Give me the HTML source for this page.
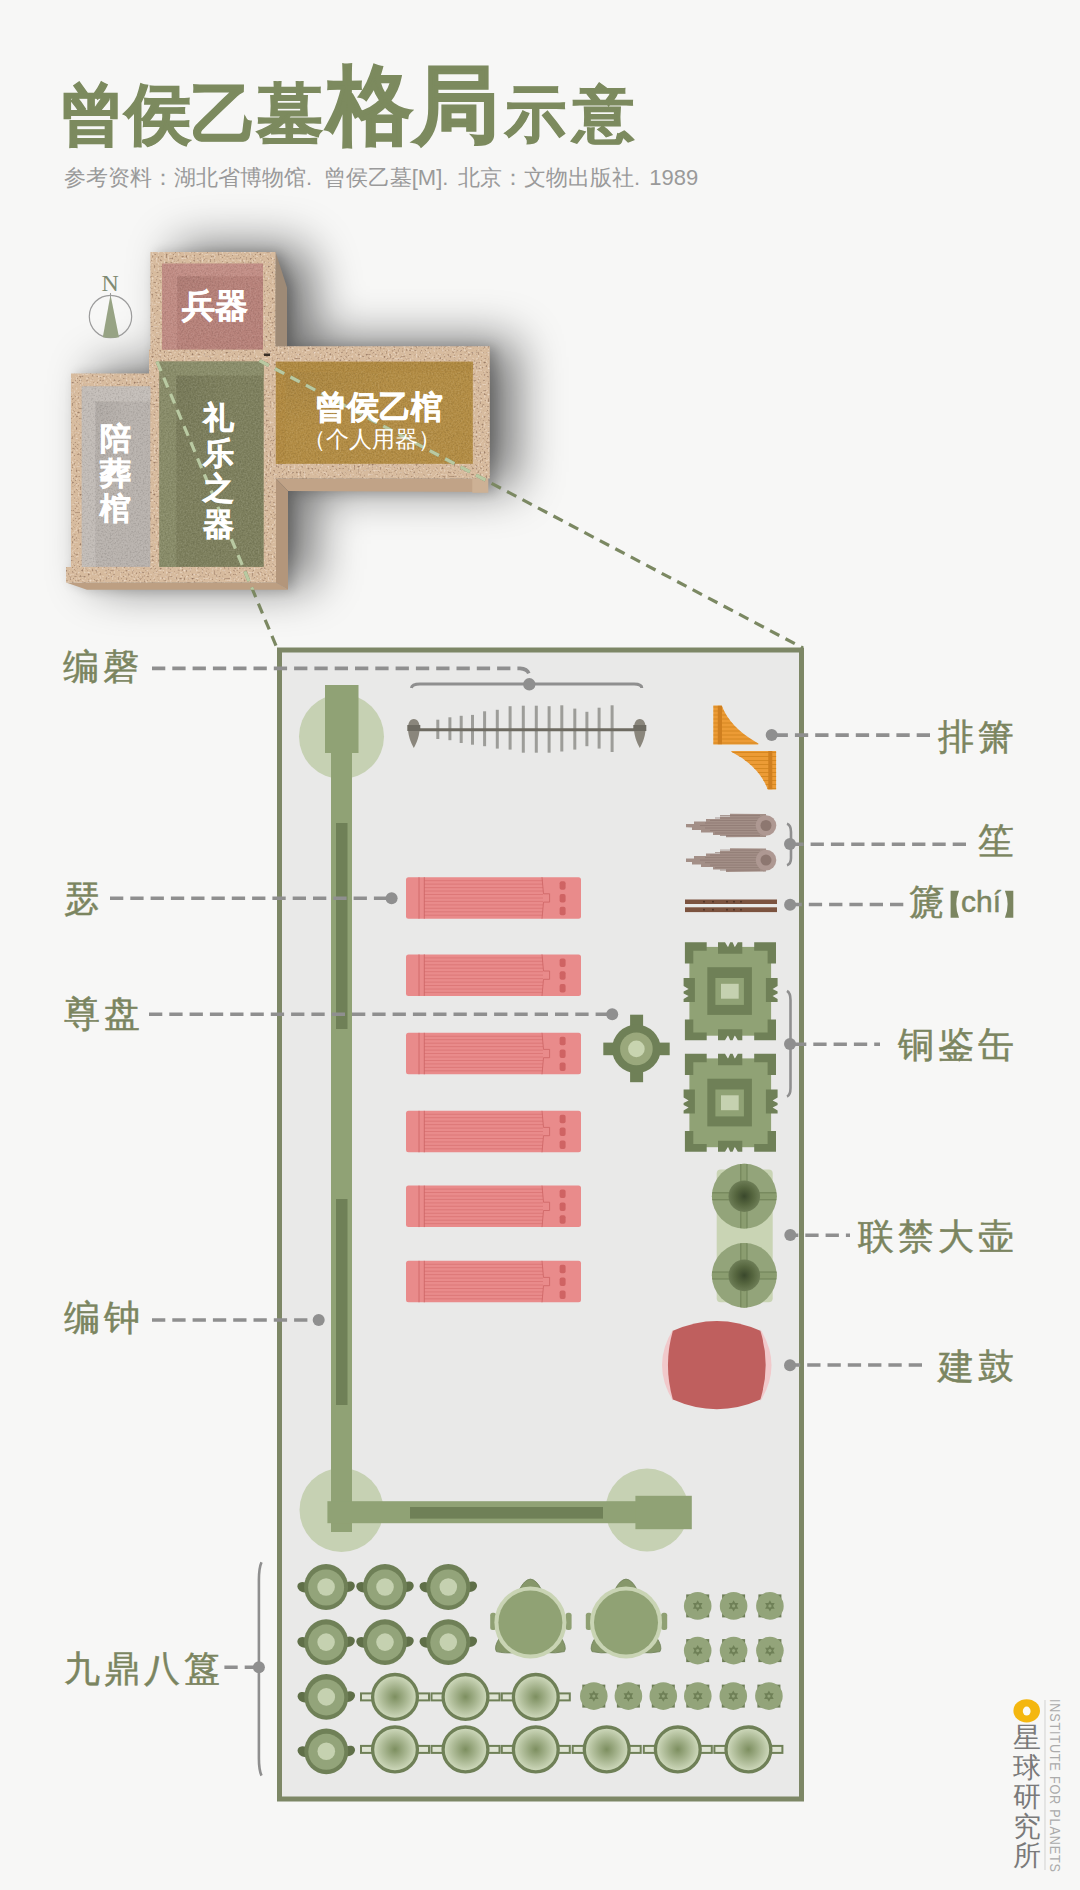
<!DOCTYPE html>
<html><head><meta charset="utf-8">
<style>
html,body{margin:0;padding:0;}
body{width:1080px;height:1890px;overflow:hidden;background:#f7f7f6;position:relative;font-family:"Liberation Sans",sans-serif;}
.t{position:absolute;white-space:nowrap;line-height:1;}
.lab{position:absolute;white-space:nowrap;line-height:1;font-size:36px;font-weight:400;color:#7b8560;letter-spacing:4px;-webkit-text-stroke:0.5px #7b8560;}
.tv{line-height:34px;}
.rl{margin-right:-4px;}
svg{position:absolute;left:0;top:0;}
</style></head><body>
<svg width="1080" height="1890" viewBox="0 0 1080 1890">
<defs>
<filter id="shBlur" x="-30%" y="-30%" width="160%" height="160%"><feGaussianBlur stdDeviation="24"/></filter>
<filter id="shBlur2" x="-30%" y="-30%" width="160%" height="160%"><feGaussianBlur stdDeviation="6"/></filter>
<filter id="speck" x="0" y="0" width="100%" height="100%" color-interpolation-filters="sRGB">
 <feTurbulence type="fractalNoise" baseFrequency="0.5" numOctaves="3" seed="5" result="t"/>
 <feColorMatrix in="t" type="matrix" values="0 0 0 0 0.58  0 0 0 0 0.46  0 0 0 0 0.38  -3.6 0 0 0 1.55" result="dk"/>
 <feColorMatrix in="t" type="matrix" values="0 0 0 0 0.93  0 0 0 0 0.86  0 0 0 0 0.79  0 3 0 0 -1.6" result="lt"/>
 <feMerge result="m"><feMergeNode in="dk"/><feMergeNode in="lt"/></feMerge>
 <feGaussianBlur in="m" stdDeviation="0.45" result="mb"/>
 <feComposite in="mb" in2="SourceAlpha" operator="in"/>
</filter>
<filter id="roomNoise" x="0" y="0" width="100%" height="100%" color-interpolation-filters="sRGB">
 <feTurbulence type="fractalNoise" baseFrequency="0.6" numOctaves="2" seed="9" result="t"/>
 <feColorMatrix in="t" type="matrix" values="0 0 0 0 1  0 0 0 0 1  0 0 0 0 1  3 0 0 0 -1.5" result="lt"/>
 <feColorMatrix in="t" type="matrix" values="0 0 0 0 0  0 0 0 0 0  0 0 0 0 0  -3 0 0 0 1.5" result="dk"/>
 <feMerge result="m"><feMergeNode in="dk"/><feMergeNode in="lt"/></feMerge>
 <feComposite in="m" in2="SourceAlpha" operator="in"/>
</filter>
<radialGradient id="roomShade" cx="0" cy="0" r="1.2"><stop offset="0" stop-color="#000" stop-opacity="0.05"/><stop offset="0.5" stop-color="#000" stop-opacity="0.0"/></radialGradient>
<linearGradient id="roomShadeV" x1="0" y1="0" x2="0" y2="1"><stop offset="0" stop-color="#000" stop-opacity="0.06"/><stop offset="0.12" stop-color="#000" stop-opacity="0"/></linearGradient>

<radialGradient id="huG"><stop offset="0" stop-color="#3a482c"/><stop offset="0.55" stop-color="#56663f"/><stop offset="1" stop-color="#6d7d56"/></radialGradient>
<radialGradient id="guiG"><stop offset="0" stop-color="#7d8f60"/><stop offset="1" stop-color="#d2dcc0"/></radialGradient>
</defs>
<path d="M150.4 252 L275.6 252 L287 287 L287 346.3 L489.8 346.3 L489.8 492.5 L288 492 L288 589.8 L87 589.8 L66 582.5 L66 567 L71 567 L71 373.6 L149 373.6 L149 349.6 L150.4 349.6 Z" transform="translate(26 -5)" fill="#000" opacity="0.55" filter="url(#shBlur)"/>
<path d="M150.4 252 L275.6 252 L287 287 L287 346.3 L489.8 346.3 L489.8 492.5 L288 492 L288 589.8 L87 589.8 L66 582.5 L66 567 L71 567 L71 373.6 L149 373.6 L149 349.6 L150.4 349.6 Z" transform="translate(5 0)" fill="#000" opacity="0.18" filter="url(#shBlur2)"/>
<path d="M275.6 252.2 L287 287.4 L287 346.3 L275.6 346.3Z" fill="#9e8a76"/>
<path d="M276 478.5 L488 478.5 L488 492 L288 491 Z" fill="#c1a387"/>
<rect x="472.3" y="478.5" width="16" height="14.3" fill="#cdb195"/>
<path d="M276 478.5 L288 491 L288 589.8 L276 582.5Z" fill="#b3967b"/>
<path d="M66 582.5 L276 582.5 L288 589.8 L87 589.8Z" fill="#bd9f82"/>
<path d="M150.4 252 L275.6 252 L275.6 346.3 L489.8 346.3 L489.8 478.5 L276 478.5 L276 582.5 L66 582.5 L66 567 L71 567 L71 373.6 L149 373.6 L149 349.6 L150.4 349.6 Z" fill="#d7bb9e"/>
<path d="M150.4 252 L275.6 252 L275.6 346.3 L489.8 346.3 L489.8 478.5 L276 478.5 L276 582.5 L66 582.5 L66 567 L71 567 L71 373.6 L149 373.6 L149 349.6 L150.4 349.6 Z" fill="#000" filter="url(#speck)"/>
<rect x="162.2" y="263.7" width="100.8" height="85.9" fill="#b7827a"/>
<path d="M162.2 263.7 L263.0 263.7 L263.0 276.2 L177.2 276.2 Z" fill="#c28e86"/>
<path d="M162.2 263.7 L177.2 276.2 L177.2 349.6 L162.2 349.6 Z" fill="#c28e86" opacity="0.85"/>
<rect x="162.2" y="263.7" width="100.8" height="85.9" fill="#000" filter="url(#roomNoise)" opacity="0.10"/>
<rect x="177.2" y="276.2" width="85.8" height="73.4" fill="url(#roomShade)"/>
<rect x="81.8" y="386.5" width="68.5" height="180.4" fill="#b8b2ad"/>
<path d="M81.8 386.5 L150.3 386.5 L150.3 401.5 L95.39999999999999 401.5 Z" fill="#c3bdb8"/>
<path d="M81.8 386.5 L95.39999999999999 401.5 L95.39999999999999 566.9 L81.8 566.9 Z" fill="#c3bdb8" opacity="0.85"/>
<rect x="81.8" y="386.5" width="68.5" height="180.4" fill="#000" filter="url(#roomNoise)" opacity="0.10"/>
<rect x="95.39999999999999" y="401.5" width="54.9" height="165.4" fill="url(#roomShade)"/>
<rect x="159.4" y="361.6" width="104.3" height="205.3" fill="#7e805e"/>
<path d="M159.4 361.6 L263.7 361.6 L263.7 375.6 L176.4 375.6 Z" fill="#8b8e6b"/>
<path d="M159.4 361.6 L176.4 375.6 L176.4 566.9000000000001 L159.4 566.9000000000001 Z" fill="#8b8e6b" opacity="0.85"/>
<rect x="159.4" y="361.6" width="104.3" height="205.3" fill="#000" filter="url(#roomNoise)" opacity="0.10"/>
<rect x="176.4" y="375.6" width="87.3" height="191.3" fill="url(#roomShade)"/>
<rect x="275.9" y="361.8" width="196.9" height="102" fill="#b38d45"/>
<path d="M275.9 361.8 L472.79999999999995 361.8 L472.79999999999995 371.8 L285.9 371.8 Z" fill="#b08a42"/>
<path d="M275.9 361.8 L285.9 371.8 L285.9 463.8 L275.9 463.8 Z" fill="#b08a42" opacity="0.85"/>
<rect x="275.9" y="361.8" width="196.9" height="102" fill="#000" filter="url(#roomNoise)" opacity="0.10"/>
<rect x="285.9" y="371.8" width="186.9" height="92" fill="url(#roomShade)"/>
<rect x="264" y="353.5" width="6" height="2.5" fill="#3a3028"/>
<clipPath id="footClip"><path d="M150.4 252 L275.6 252 L287 287 L287 346.3 L489.8 346.3 L489.8 492.5 L288 492 L288 589.8 L87 589.8 L66 582.5 L66 567 L71 567 L71 373.6 L149 373.6 L149 349.6 L150.4 349.6 Z"/></clipPath>
<line x1="259.5" y1="360.6" x2="803" y2="648" stroke="#7b8862" stroke-width="3.2" stroke-dasharray="10.5 7"/>
<line x1="157" y1="361.5" x2="277" y2="648" stroke="#7b8862" stroke-width="3.2" stroke-dasharray="10.5 7"/>
<g clip-path="url(#footClip)"><line x1="259.5" y1="360.6" x2="803" y2="648" stroke="#b9c9a2" stroke-width="3.2" stroke-dasharray="10.5 7"/><line x1="157" y1="361.5" x2="277" y2="648" stroke="#b9c9a2" stroke-width="3.2" stroke-dasharray="10.5 7"/></g>
<circle cx="110.5" cy="316.5" r="21.2" fill="none" stroke="#9c9c9c" stroke-width="1.2"/>
<path d="M110.5 294.8 L119 337.2 Q110.8 338.5 102.8 337.2 Z" fill="#97a384"/>
<line x1="110.5" y1="293" x2="110.5" y2="297" stroke="#9c9c9c" stroke-width="1"/>
<ellipse cx="1026.7" cy="1710.8" rx="13.3" ry="11.6" fill="#f4b70f"/>
<ellipse cx="1026.7" cy="1711.1" rx="3.9" ry="4.5" fill="#fbfbf7"/>
<line x1="1045" y1="1700" x2="1045" y2="1870" stroke="#d8d8d8" stroke-width="1.2"/>
<rect x="279.5" y="650" width="522" height="1149" fill="#e9e9e8" stroke="#7d8766" stroke-width="5"/>
<circle cx="341.5" cy="736.5" r="42.5" fill="#c6d1b3"/>
<circle cx="341.5" cy="1510" r="42" fill="#c6d1b3"/>
<circle cx="647" cy="1510" r="41.5" fill="#c6d1b3"/>
<rect x="331" y="740" width="21" height="792" fill="#90a275"/>
<rect x="325" y="685" width="33.5" height="68" fill="#90a275"/>
<rect x="336" y="823" width="11.5" height="206" fill="#6f8057"/>
<rect x="336" y="1199" width="11.5" height="206" fill="#6f8057"/>
<rect x="327.4" y="1501.2" width="310" height="22" fill="#90a275"/>
<rect x="410" y="1507" width="193" height="11.6" fill="#6f8057"/>
<rect x="635.4" y="1495.8" width="56.4" height="33.4" fill="#90a275"/>
<rect x="436.3" y="719.7" width="3" height="19.3" fill="#9d9d99"/>
<rect x="448.4" y="717.3" width="3" height="22.9" fill="#9d9d99"/>
<rect x="459.7" y="715.8" width="3" height="27.2" fill="#9d9d99"/>
<rect x="471.0" y="714.9" width="3" height="29.8" fill="#9d9d99"/>
<rect x="483.1" y="711.3" width="3" height="34.9" fill="#9d9d99"/>
<rect x="495.8" y="709.8" width="3" height="38.8" fill="#9d9d99"/>
<rect x="508.6" y="706.2" width="3" height="43.4" fill="#9d9d99"/>
<rect x="521.8" y="705.7" width="3" height="47.0" fill="#9d9d99"/>
<rect x="534.8" y="705.7" width="3" height="47.0" fill="#9d9d99"/>
<rect x="547.6" y="706.2" width="3" height="46.5" fill="#9d9d99"/>
<rect x="560.3" y="705.3" width="3" height="46.2" fill="#9d9d99"/>
<rect x="573.3" y="708.6" width="3" height="41.0" fill="#9d9d99"/>
<rect x="585.4" y="711.8" width="3" height="34.4" fill="#9d9d99"/>
<rect x="597.6" y="707.7" width="3" height="40.9" fill="#9d9d99"/>
<rect x="610.6" y="705.3" width="3" height="46.7" fill="#9d9d99"/>
<line x1="412" y1="729.8" x2="640" y2="729.8" stroke="#6e6b62" stroke-width="3"/>
<path d="M413.8 719 C421.8 719 421.3 735 413.8 748 C406.3 735 405.8 719 413.8 719Z" fill="#8a867c"/>
<rect x="407.3" y="725" width="13" height="6" fill="#6e6b62"/>
<path d="M639.8 719 C647.8 719 647.3 735 639.8 748 C632.3 735 631.8 719 639.8 719Z" fill="#8a867c"/>
<rect x="633.3" y="725" width="13" height="6" fill="#6e6b62"/>
<path d="M411.4 688 Q412 684 420 684 L634 684 Q641.8 684 641.8 688" fill="none" stroke="#8f8f8f" stroke-width="3"/>
<path d="M152 668.4 L520 668.4 Q529 669 529.3 676" fill="none" stroke="#8f8f8f" stroke-width="3.6" stroke-dasharray="13.3 7"/>
<circle cx="529.3" cy="684.3" r="6.2" fill="#8f8f8f"/>
<clipPath id="pp1"><path d="M713.3 705.6 L721.7 705.6 Q730 728 758.3 743.5 L758.3 744.4 L713.3 744.4 Z"/></clipPath><clipPath id="pp2"><path d="M731.3 750.9 L776.1 750.9 L776.1 789.4 L767.8 789.4 Q759 766 731.3 751.8 Z"/></clipPath>
<path d="M713.3 705.6 L721.7 705.6 Q730 728 758.3 743.5 L758.3 744.4 L713.3 744.4 Z" fill="#ec9b35"/>
<g clip-path="url(#pp1)">
<line x1="713.3" y1="707.0" x2="760" y2="707.0" stroke="#d4861f" stroke-width="0.9"/>
<line x1="713.3" y1="711.0" x2="760" y2="711.0" stroke="#d4861f" stroke-width="0.9"/>
<line x1="713.3" y1="715.0" x2="760" y2="715.0" stroke="#d4861f" stroke-width="0.9"/>
<line x1="713.3" y1="719.0" x2="760" y2="719.0" stroke="#d4861f" stroke-width="0.9"/>
<line x1="713.3" y1="723.0" x2="760" y2="723.0" stroke="#d4861f" stroke-width="0.9"/>
<line x1="713.3" y1="727.0" x2="760" y2="727.0" stroke="#d4861f" stroke-width="0.9"/>
<line x1="713.3" y1="731.0" x2="760" y2="731.0" stroke="#d4861f" stroke-width="0.9"/>
<line x1="713.3" y1="735.0" x2="760" y2="735.0" stroke="#d4861f" stroke-width="0.9"/>
<line x1="713.3" y1="739.0" x2="760" y2="739.0" stroke="#d4861f" stroke-width="0.9"/>
<line x1="713.3" y1="743.0" x2="760" y2="743.0" stroke="#d4861f" stroke-width="0.9"/>
<rect x="717.8" y="705.6" width="4.2" height="38.8" fill="#cf7f1f"/>
</g>
<path d="M731.3 750.9 L776.1 750.9 L776.1 789.4 L767.8 789.4 Q759 766 731.3 751.8 Z" fill="#ec9b35"/>
<g clip-path="url(#pp2)">
<line x1="730" y1="752.5" x2="777" y2="752.5" stroke="#d4861f" stroke-width="0.9"/>
<line x1="730" y1="756.5" x2="777" y2="756.5" stroke="#d4861f" stroke-width="0.9"/>
<line x1="730" y1="760.5" x2="777" y2="760.5" stroke="#d4861f" stroke-width="0.9"/>
<line x1="730" y1="764.5" x2="777" y2="764.5" stroke="#d4861f" stroke-width="0.9"/>
<line x1="730" y1="768.5" x2="777" y2="768.5" stroke="#d4861f" stroke-width="0.9"/>
<line x1="730" y1="772.5" x2="777" y2="772.5" stroke="#d4861f" stroke-width="0.9"/>
<line x1="730" y1="776.5" x2="777" y2="776.5" stroke="#d4861f" stroke-width="0.9"/>
<line x1="730" y1="780.5" x2="777" y2="780.5" stroke="#d4861f" stroke-width="0.9"/>
<line x1="730" y1="784.5" x2="777" y2="784.5" stroke="#d4861f" stroke-width="0.9"/>
<line x1="730" y1="788.5" x2="777" y2="788.5" stroke="#d4861f" stroke-width="0.9"/>
<rect x="768.3" y="750.9" width="4" height="38.5" fill="#cf7f1f"/>
</g>
<path d="M766 814.0 L730 813.7 L730 816.5 L720 816.5 L720 819.0 L706 819.0 L706 821.5 L694 821.5 L694 824.0 L686 824.0 L686 827.3 L692 827.5 L692 830.0 L701 830.0 L701 832.5 L713 832.5 L713 835.0 L726 835.0 L726 837.3 L766 837.0 Z" fill="#a38f87"/>
<line x1="720" y1="815.5" x2="760" y2="815.5" stroke="#8c7770" stroke-width="0.7"/>
<line x1="715" y1="818.0" x2="760" y2="818.0" stroke="#8c7770" stroke-width="0.7"/>
<line x1="710" y1="820.5" x2="760" y2="820.5" stroke="#8c7770" stroke-width="0.7"/>
<line x1="705" y1="823.0" x2="760" y2="823.0" stroke="#8c7770" stroke-width="0.7"/>
<line x1="700" y1="825.5" x2="760" y2="825.5" stroke="#8c7770" stroke-width="0.7"/>
<line x1="705" y1="828.0" x2="760" y2="828.0" stroke="#8c7770" stroke-width="0.7"/>
<line x1="710" y1="830.5" x2="760" y2="830.5" stroke="#8c7770" stroke-width="0.7"/>
<line x1="715" y1="833.0" x2="760" y2="833.0" stroke="#8c7770" stroke-width="0.7"/>
<line x1="720" y1="835.5" x2="760" y2="835.5" stroke="#8c7770" stroke-width="0.7"/>
<circle cx="766" cy="825.5" r="10.3" fill="#ae9892"/>
<circle cx="766" cy="825.5" r="5.5" fill="#8d7770"/>
<path d="M766 848.6 L730 848.3000000000001 L730 851.1 L720 851.1 L720 853.6 L706 853.6 L706 856.1 L694 856.1 L694 858.6 L686 858.6 L686 861.9 L692 862.1 L692 864.6 L701 864.6 L701 867.1 L713 867.1 L713 869.6 L726 869.6 L726 871.9 L766 871.6 Z" fill="#a38f87"/>
<line x1="720" y1="850.1" x2="760" y2="850.1" stroke="#8c7770" stroke-width="0.7"/>
<line x1="715" y1="852.6" x2="760" y2="852.6" stroke="#8c7770" stroke-width="0.7"/>
<line x1="710" y1="855.1" x2="760" y2="855.1" stroke="#8c7770" stroke-width="0.7"/>
<line x1="705" y1="857.6" x2="760" y2="857.6" stroke="#8c7770" stroke-width="0.7"/>
<line x1="700" y1="860.1" x2="760" y2="860.1" stroke="#8c7770" stroke-width="0.7"/>
<line x1="705" y1="862.6" x2="760" y2="862.6" stroke="#8c7770" stroke-width="0.7"/>
<line x1="710" y1="865.1" x2="760" y2="865.1" stroke="#8c7770" stroke-width="0.7"/>
<line x1="715" y1="867.6" x2="760" y2="867.6" stroke="#8c7770" stroke-width="0.7"/>
<line x1="720" y1="870.1" x2="760" y2="870.1" stroke="#8c7770" stroke-width="0.7"/>
<circle cx="766" cy="860.1" r="10.3" fill="#ae9892"/>
<circle cx="766" cy="860.1" r="5.5" fill="#8d7770"/>
<path d="M787 823.7 Q791 825 791 832 L791 858 Q791 864 787 865.2" fill="none" stroke="#8f8f8f" stroke-width="2.6"/>
<rect x="685" y="899.5" width="92" height="4.5" fill="#7c533f"/>
<rect x="685" y="907.3" width="92" height="4.8" fill="#7c533f"/>
<circle cx="704" cy="901.7" r="0.9" fill="#4a2f22"/><circle cx="704" cy="909.7" r="0.9" fill="#4a2f22"/>
<circle cx="713" cy="901.7" r="0.9" fill="#4a2f22"/><circle cx="713" cy="909.7" r="0.9" fill="#4a2f22"/>
<circle cx="727" cy="901.7" r="0.9" fill="#4a2f22"/><circle cx="727" cy="909.7" r="0.9" fill="#4a2f22"/>
<circle cx="734" cy="901.7" r="0.9" fill="#4a2f22"/><circle cx="734" cy="909.7" r="0.9" fill="#4a2f22"/>
<circle cx="741" cy="901.7" r="0.9" fill="#4a2f22"/><circle cx="741" cy="909.7" r="0.9" fill="#4a2f22"/>
<rect x="406" y="877.2" width="175" height="41.5" rx="2.5" fill="#e98b8b"/>
<line x1="424" y1="880.7" x2="543" y2="880.7" stroke="#d97474" stroke-width="0.8"/>
<line x1="424" y1="884.1" x2="543" y2="884.1" stroke="#d97474" stroke-width="0.8"/>
<line x1="424" y1="887.6" x2="543" y2="887.6" stroke="#d97474" stroke-width="0.8"/>
<line x1="424" y1="891.0" x2="543" y2="891.0" stroke="#d97474" stroke-width="0.8"/>
<line x1="424" y1="894.5" x2="543" y2="894.5" stroke="#d97474" stroke-width="0.8"/>
<line x1="424" y1="898.0" x2="543" y2="898.0" stroke="#d97474" stroke-width="0.8"/>
<line x1="424" y1="901.4" x2="543" y2="901.4" stroke="#d97474" stroke-width="0.8"/>
<line x1="424" y1="904.9" x2="543" y2="904.9" stroke="#d97474" stroke-width="0.8"/>
<line x1="424" y1="908.3" x2="543" y2="908.3" stroke="#d97474" stroke-width="0.8"/>
<line x1="424" y1="911.8" x2="543" y2="911.8" stroke="#d97474" stroke-width="0.8"/>
<line x1="424" y1="915.2" x2="543" y2="915.2" stroke="#d97474" stroke-width="0.8"/>
<line x1="419" y1="877.2" x2="419" y2="918.7" stroke="#cf6868" stroke-width="0.9"/>
<line x1="424.3" y1="877.2" x2="424.3" y2="918.7" stroke="#cf6868" stroke-width="0.9"/>
<path d="M542 877.2 L543.5 893.8000000000001 L549.6 893.8000000000001 L549.6 902.1 L543.5 902.1 L542 918.7" fill="none" stroke="#cf6868" stroke-width="0.9"/>
<rect x="559.6" y="881.2" width="6" height="8.5" rx="2" fill="#cf6363"/>
<rect x="559.6" y="894.0" width="6" height="8.5" rx="2" fill="#cf6363"/>
<rect x="559.6" y="906.8" width="6" height="8.5" rx="2" fill="#cf6363"/>
<rect x="406" y="954.4" width="175" height="41.5" rx="2.5" fill="#e98b8b"/>
<line x1="424" y1="957.9" x2="543" y2="957.9" stroke="#d97474" stroke-width="0.8"/>
<line x1="424" y1="961.3" x2="543" y2="961.3" stroke="#d97474" stroke-width="0.8"/>
<line x1="424" y1="964.8" x2="543" y2="964.8" stroke="#d97474" stroke-width="0.8"/>
<line x1="424" y1="968.2" x2="543" y2="968.2" stroke="#d97474" stroke-width="0.8"/>
<line x1="424" y1="971.7" x2="543" y2="971.7" stroke="#d97474" stroke-width="0.8"/>
<line x1="424" y1="975.1" x2="543" y2="975.1" stroke="#d97474" stroke-width="0.8"/>
<line x1="424" y1="978.6" x2="543" y2="978.6" stroke="#d97474" stroke-width="0.8"/>
<line x1="424" y1="982.1" x2="543" y2="982.1" stroke="#d97474" stroke-width="0.8"/>
<line x1="424" y1="985.5" x2="543" y2="985.5" stroke="#d97474" stroke-width="0.8"/>
<line x1="424" y1="989.0" x2="543" y2="989.0" stroke="#d97474" stroke-width="0.8"/>
<line x1="424" y1="992.4" x2="543" y2="992.4" stroke="#d97474" stroke-width="0.8"/>
<line x1="419" y1="954.4" x2="419" y2="995.9" stroke="#cf6868" stroke-width="0.9"/>
<line x1="424.3" y1="954.4" x2="424.3" y2="995.9" stroke="#cf6868" stroke-width="0.9"/>
<path d="M542 954.4 L543.5 971.0 L549.6 971.0 L549.6 979.3 L543.5 979.3 L542 995.9" fill="none" stroke="#cf6868" stroke-width="0.9"/>
<rect x="559.6" y="958.4" width="6" height="8.5" rx="2" fill="#cf6363"/>
<rect x="559.6" y="971.2" width="6" height="8.5" rx="2" fill="#cf6363"/>
<rect x="559.6" y="984.0" width="6" height="8.5" rx="2" fill="#cf6363"/>
<rect x="406" y="1032.8" width="175" height="41.5" rx="2.5" fill="#e98b8b"/>
<line x1="424" y1="1036.3" x2="543" y2="1036.3" stroke="#d97474" stroke-width="0.8"/>
<line x1="424" y1="1039.7" x2="543" y2="1039.7" stroke="#d97474" stroke-width="0.8"/>
<line x1="424" y1="1043.2" x2="543" y2="1043.2" stroke="#d97474" stroke-width="0.8"/>
<line x1="424" y1="1046.6" x2="543" y2="1046.6" stroke="#d97474" stroke-width="0.8"/>
<line x1="424" y1="1050.1" x2="543" y2="1050.1" stroke="#d97474" stroke-width="0.8"/>
<line x1="424" y1="1053.5" x2="543" y2="1053.5" stroke="#d97474" stroke-width="0.8"/>
<line x1="424" y1="1057.0" x2="543" y2="1057.0" stroke="#d97474" stroke-width="0.8"/>
<line x1="424" y1="1060.5" x2="543" y2="1060.5" stroke="#d97474" stroke-width="0.8"/>
<line x1="424" y1="1063.9" x2="543" y2="1063.9" stroke="#d97474" stroke-width="0.8"/>
<line x1="424" y1="1067.4" x2="543" y2="1067.4" stroke="#d97474" stroke-width="0.8"/>
<line x1="424" y1="1070.8" x2="543" y2="1070.8" stroke="#d97474" stroke-width="0.8"/>
<line x1="419" y1="1032.8" x2="419" y2="1074.3" stroke="#cf6868" stroke-width="0.9"/>
<line x1="424.3" y1="1032.8" x2="424.3" y2="1074.3" stroke="#cf6868" stroke-width="0.9"/>
<path d="M542 1032.8 L543.5 1049.3999999999999 L549.6 1049.3999999999999 L549.6 1057.7 L543.5 1057.7 L542 1074.3" fill="none" stroke="#cf6868" stroke-width="0.9"/>
<rect x="559.6" y="1036.8" width="6" height="8.5" rx="2" fill="#cf6363"/>
<rect x="559.6" y="1049.6" width="6" height="8.5" rx="2" fill="#cf6363"/>
<rect x="559.6" y="1062.4" width="6" height="8.5" rx="2" fill="#cf6363"/>
<rect x="406" y="1110.8" width="175" height="41.5" rx="2.5" fill="#e98b8b"/>
<line x1="424" y1="1114.3" x2="543" y2="1114.3" stroke="#d97474" stroke-width="0.8"/>
<line x1="424" y1="1117.7" x2="543" y2="1117.7" stroke="#d97474" stroke-width="0.8"/>
<line x1="424" y1="1121.2" x2="543" y2="1121.2" stroke="#d97474" stroke-width="0.8"/>
<line x1="424" y1="1124.6" x2="543" y2="1124.6" stroke="#d97474" stroke-width="0.8"/>
<line x1="424" y1="1128.1" x2="543" y2="1128.1" stroke="#d97474" stroke-width="0.8"/>
<line x1="424" y1="1131.5" x2="543" y2="1131.5" stroke="#d97474" stroke-width="0.8"/>
<line x1="424" y1="1135.0" x2="543" y2="1135.0" stroke="#d97474" stroke-width="0.8"/>
<line x1="424" y1="1138.5" x2="543" y2="1138.5" stroke="#d97474" stroke-width="0.8"/>
<line x1="424" y1="1141.9" x2="543" y2="1141.9" stroke="#d97474" stroke-width="0.8"/>
<line x1="424" y1="1145.4" x2="543" y2="1145.4" stroke="#d97474" stroke-width="0.8"/>
<line x1="424" y1="1148.8" x2="543" y2="1148.8" stroke="#d97474" stroke-width="0.8"/>
<line x1="419" y1="1110.8" x2="419" y2="1152.3" stroke="#cf6868" stroke-width="0.9"/>
<line x1="424.3" y1="1110.8" x2="424.3" y2="1152.3" stroke="#cf6868" stroke-width="0.9"/>
<path d="M542 1110.8 L543.5 1127.3999999999999 L549.6 1127.3999999999999 L549.6 1135.7 L543.5 1135.7 L542 1152.3" fill="none" stroke="#cf6868" stroke-width="0.9"/>
<rect x="559.6" y="1114.8" width="6" height="8.5" rx="2" fill="#cf6363"/>
<rect x="559.6" y="1127.6" width="6" height="8.5" rx="2" fill="#cf6363"/>
<rect x="559.6" y="1140.4" width="6" height="8.5" rx="2" fill="#cf6363"/>
<rect x="406" y="1185.6" width="175" height="41.5" rx="2.5" fill="#e98b8b"/>
<line x1="424" y1="1189.1" x2="543" y2="1189.1" stroke="#d97474" stroke-width="0.8"/>
<line x1="424" y1="1192.5" x2="543" y2="1192.5" stroke="#d97474" stroke-width="0.8"/>
<line x1="424" y1="1196.0" x2="543" y2="1196.0" stroke="#d97474" stroke-width="0.8"/>
<line x1="424" y1="1199.4" x2="543" y2="1199.4" stroke="#d97474" stroke-width="0.8"/>
<line x1="424" y1="1202.9" x2="543" y2="1202.9" stroke="#d97474" stroke-width="0.8"/>
<line x1="424" y1="1206.3" x2="543" y2="1206.3" stroke="#d97474" stroke-width="0.8"/>
<line x1="424" y1="1209.8" x2="543" y2="1209.8" stroke="#d97474" stroke-width="0.8"/>
<line x1="424" y1="1213.3" x2="543" y2="1213.3" stroke="#d97474" stroke-width="0.8"/>
<line x1="424" y1="1216.7" x2="543" y2="1216.7" stroke="#d97474" stroke-width="0.8"/>
<line x1="424" y1="1220.2" x2="543" y2="1220.2" stroke="#d97474" stroke-width="0.8"/>
<line x1="424" y1="1223.6" x2="543" y2="1223.6" stroke="#d97474" stroke-width="0.8"/>
<line x1="419" y1="1185.6" x2="419" y2="1227.1" stroke="#cf6868" stroke-width="0.9"/>
<line x1="424.3" y1="1185.6" x2="424.3" y2="1227.1" stroke="#cf6868" stroke-width="0.9"/>
<path d="M542 1185.6 L543.5 1202.1999999999998 L549.6 1202.1999999999998 L549.6 1210.5 L543.5 1210.5 L542 1227.1" fill="none" stroke="#cf6868" stroke-width="0.9"/>
<rect x="559.6" y="1189.6" width="6" height="8.5" rx="2" fill="#cf6363"/>
<rect x="559.6" y="1202.4" width="6" height="8.5" rx="2" fill="#cf6363"/>
<rect x="559.6" y="1215.2" width="6" height="8.5" rx="2" fill="#cf6363"/>
<rect x="406" y="1260.8" width="175" height="41.5" rx="2.5" fill="#e98b8b"/>
<line x1="424" y1="1264.3" x2="543" y2="1264.3" stroke="#d97474" stroke-width="0.8"/>
<line x1="424" y1="1267.7" x2="543" y2="1267.7" stroke="#d97474" stroke-width="0.8"/>
<line x1="424" y1="1271.2" x2="543" y2="1271.2" stroke="#d97474" stroke-width="0.8"/>
<line x1="424" y1="1274.6" x2="543" y2="1274.6" stroke="#d97474" stroke-width="0.8"/>
<line x1="424" y1="1278.1" x2="543" y2="1278.1" stroke="#d97474" stroke-width="0.8"/>
<line x1="424" y1="1281.5" x2="543" y2="1281.5" stroke="#d97474" stroke-width="0.8"/>
<line x1="424" y1="1285.0" x2="543" y2="1285.0" stroke="#d97474" stroke-width="0.8"/>
<line x1="424" y1="1288.5" x2="543" y2="1288.5" stroke="#d97474" stroke-width="0.8"/>
<line x1="424" y1="1291.9" x2="543" y2="1291.9" stroke="#d97474" stroke-width="0.8"/>
<line x1="424" y1="1295.4" x2="543" y2="1295.4" stroke="#d97474" stroke-width="0.8"/>
<line x1="424" y1="1298.8" x2="543" y2="1298.8" stroke="#d97474" stroke-width="0.8"/>
<line x1="419" y1="1260.8" x2="419" y2="1302.3" stroke="#cf6868" stroke-width="0.9"/>
<line x1="424.3" y1="1260.8" x2="424.3" y2="1302.3" stroke="#cf6868" stroke-width="0.9"/>
<path d="M542 1260.8 L543.5 1277.3999999999999 L549.6 1277.3999999999999 L549.6 1285.7 L543.5 1285.7 L542 1302.3" fill="none" stroke="#cf6868" stroke-width="0.9"/>
<rect x="559.6" y="1264.8" width="6" height="8.5" rx="2" fill="#cf6363"/>
<rect x="559.6" y="1277.6" width="6" height="8.5" rx="2" fill="#cf6363"/>
<rect x="559.6" y="1290.4" width="6" height="8.5" rx="2" fill="#cf6363"/>
<rect x="603.3" y="1042.6" width="66.4" height="12.6" fill="#6f8057"/>
<rect x="630.1" y="1014.7" width="13" height="67.5" fill="#6f8057"/>
<circle cx="636.4" cy="1048.9" r="24.3" fill="#6f8057"/>
<circle cx="636.4" cy="1048.9" r="16.3" fill="#9aa87c"/>
<circle cx="636.4" cy="1048.9" r="8.3" fill="#c8d4b0"/>
<rect x="689.4" y="946.9" width="81.7" height="88.8" fill="#90a275"/>
<path d="M684.9 942.3 h21.8 v8.4 h-13.4 v12.7 h-8.4z" fill="#6f8057"/>
<path d="M776 942.3 h-21.8 v8.4 h13.4 v12.7 h8.4z" fill="#6f8057"/>
<path d="M684.9 1040.2 h21.8 v-7.8 h-13.4 v-13 h-8.4z" fill="#6f8057"/>
<path d="M776 1040.2 h-21.8 v-7.8 h13.4 v-13 h8.4z" fill="#6f8057"/>
<path d="M718 942.3 h7 l3 5 l2.2 -5 h2.4 l2.2 5 l3 -5 h4.5 v11.4 h-24.3z" fill="#6f8057"/>
<path d="M718 1040.2 h7 l3 -5 l2.2 5 h2.4 l2.2 -5 l3 5 h4.5 v-11 h-24.3z" fill="#6f8057"/>
<path d="M683.6 978.0 v8 l5 3 l-5 2.5 v2 l5 2.5 l-5 3 v3 h11.3 v-24z" fill="#6f8057"/>
<path d="M777.6 978.0 v8 l-5 3 l5 2.5 v2 l-5 2.5 l5 3 v3 h-11.7 v-24z" fill="#6f8057"/>
<rect x="707.3" y="967.1999999999999" width="44.6" height="47.7" fill="#6f8057"/>
<rect x="715.4" y="978.0" width="28.5" height="26.9" fill="#90a275"/>
<rect x="721" y="983.8" width="17.7" height="14.9" fill="#c5d1b0"/>
<rect x="689.4" y="1058.3999999999999" width="81.7" height="88.8" fill="#90a275"/>
<path d="M684.9 1053.8 h21.8 v8.4 h-13.4 v12.7 h-8.4z" fill="#6f8057"/>
<path d="M776 1053.8 h-21.8 v8.4 h13.4 v12.7 h8.4z" fill="#6f8057"/>
<path d="M684.9 1151.7 h21.8 v-7.8 h-13.4 v-13 h-8.4z" fill="#6f8057"/>
<path d="M776 1151.7 h-21.8 v-7.8 h13.4 v-13 h8.4z" fill="#6f8057"/>
<path d="M718 1053.8 h7 l3 5 l2.2 -5 h2.4 l2.2 5 l3 -5 h4.5 v11.4 h-24.3z" fill="#6f8057"/>
<path d="M718 1151.7 h7 l3 -5 l2.2 5 h2.4 l2.2 -5 l3 5 h4.5 v-11 h-24.3z" fill="#6f8057"/>
<path d="M683.6 1089.5 v8 l5 3 l-5 2.5 v2 l5 2.5 l-5 3 v3 h11.3 v-24z" fill="#6f8057"/>
<path d="M777.6 1089.5 v8 l-5 3 l5 2.5 v2 l-5 2.5 l5 3 v3 h-11.7 v-24z" fill="#6f8057"/>
<rect x="707.3" y="1078.7" width="44.6" height="47.7" fill="#6f8057"/>
<rect x="715.4" y="1089.5" width="28.5" height="26.9" fill="#90a275"/>
<rect x="721" y="1095.3" width="17.7" height="14.9" fill="#c5d1b0"/>
<path d="M787 990.9 Q790.5 993 790.5 1000 L790.5 1088 Q790.5 1095 787 1096.6" fill="none" stroke="#8f8f8f" stroke-width="2.6"/>
<rect x="716.7" y="1169.4" width="56" height="132.8" rx="4" fill="#c9d4b4"/>
<clipPath id="huc0"><circle cx="744.3" cy="1196.2" r="32.4"/></clipPath>
<circle cx="744.3" cy="1196.2" r="32.4" fill="#93a47a"/>
<g clip-path="url(#huc0)">
<rect x="740.8" y="1163.2" width="6.2" height="66" fill="#8b9d70"/>
<rect x="711" y="1192.8" width="66" height="7" fill="#8b9d70"/>
<line x1="740.8" y1="1163.2" x2="740.8" y2="1229.2" stroke="#6e8156" stroke-width="1"/>
<line x1="747.0" y1="1163.2" x2="747.0" y2="1229.2" stroke="#6e8156" stroke-width="1"/>
<line x1="711" y1="1192.8" x2="777" y2="1192.8" stroke="#6e8156" stroke-width="1"/>
<line x1="711" y1="1199.8" x2="777" y2="1199.8" stroke="#6e8156" stroke-width="1"/>
</g>
<circle cx="744.3" cy="1196.2" r="15.8" fill="url(#huG)"/>
<clipPath id="huc1"><circle cx="744.3" cy="1275.4" r="32.4"/></clipPath>
<circle cx="744.3" cy="1275.4" r="32.4" fill="#93a47a"/>
<g clip-path="url(#huc1)">
<rect x="740.8" y="1242.4" width="6.2" height="66" fill="#8b9d70"/>
<rect x="711" y="1272.0" width="66" height="7" fill="#8b9d70"/>
<line x1="740.8" y1="1242.4" x2="740.8" y2="1308.4" stroke="#6e8156" stroke-width="1"/>
<line x1="747.0" y1="1242.4" x2="747.0" y2="1308.4" stroke="#6e8156" stroke-width="1"/>
<line x1="711" y1="1272.0" x2="777" y2="1272.0" stroke="#6e8156" stroke-width="1"/>
<line x1="711" y1="1279.0" x2="777" y2="1279.0" stroke="#6e8156" stroke-width="1"/>
</g>
<circle cx="744.3" cy="1275.4" r="15.8" fill="url(#huG)"/>
<path d="M673 1329.5 Q651 1365 673 1401 Z" fill="#f1c9cb"/>
<path d="M760.5 1329.5 Q782.5 1365 760.5 1401 Z" fill="#f1c9cb"/>
<path d="M672.9 1330.8 Q717 1311 760.4 1330.8 Q771 1365 760.4 1399.6 Q717 1419 672.9 1399.6 Q663 1365 672.9 1330.8Z" fill="#bf5f5e"/>
<ellipse cx="303.6" cy="1587.3" rx="6.5" ry="5" transform="rotate(25 303.6 1587.3)" fill="#5f6f48"/>
<ellipse cx="348.6" cy="1586.7" rx="6.5" ry="5" transform="rotate(-25 348.6 1586.7)" fill="#5f6f48"/>
<ellipse cx="326.1" cy="1587" rx="22" ry="22.9" fill="#6f8057"/>
<circle cx="326.1" cy="1587.5" r="18" fill="#93a47a"/>
<circle cx="326.1" cy="1587" r="8.8" fill="#c5d1b0"/>
<ellipse cx="362.5" cy="1587.3" rx="6.5" ry="5" transform="rotate(25 362.5 1587.3)" fill="#5f6f48"/>
<ellipse cx="407.5" cy="1586.7" rx="6.5" ry="5" transform="rotate(-25 407.5 1586.7)" fill="#5f6f48"/>
<ellipse cx="385" cy="1587" rx="22" ry="22.9" fill="#6f8057"/>
<circle cx="385" cy="1587.5" r="18" fill="#93a47a"/>
<circle cx="385" cy="1587" r="8.8" fill="#c5d1b0"/>
<ellipse cx="425.8" cy="1587.3" rx="6.5" ry="5" transform="rotate(25 425.8 1587.3)" fill="#5f6f48"/>
<ellipse cx="470.8" cy="1586.7" rx="6.5" ry="5" transform="rotate(-25 470.8 1586.7)" fill="#5f6f48"/>
<ellipse cx="448.3" cy="1587" rx="22" ry="22.9" fill="#6f8057"/>
<circle cx="448.3" cy="1587.5" r="18" fill="#93a47a"/>
<circle cx="448.3" cy="1587" r="8.8" fill="#c5d1b0"/>
<ellipse cx="303.6" cy="1642.3999999999999" rx="6.5" ry="5" transform="rotate(25 303.6 1642.3999999999999)" fill="#5f6f48"/>
<ellipse cx="348.6" cy="1641.8" rx="6.5" ry="5" transform="rotate(-25 348.6 1641.8)" fill="#5f6f48"/>
<ellipse cx="326.1" cy="1642.1" rx="22" ry="22.9" fill="#6f8057"/>
<circle cx="326.1" cy="1642.6" r="18" fill="#93a47a"/>
<circle cx="326.1" cy="1642.1" r="8.8" fill="#c5d1b0"/>
<ellipse cx="362.5" cy="1642.3999999999999" rx="6.5" ry="5" transform="rotate(25 362.5 1642.3999999999999)" fill="#5f6f48"/>
<ellipse cx="407.5" cy="1641.8" rx="6.5" ry="5" transform="rotate(-25 407.5 1641.8)" fill="#5f6f48"/>
<ellipse cx="385" cy="1642.1" rx="22" ry="22.9" fill="#6f8057"/>
<circle cx="385" cy="1642.6" r="18" fill="#93a47a"/>
<circle cx="385" cy="1642.1" r="8.8" fill="#c5d1b0"/>
<ellipse cx="425.8" cy="1642.3999999999999" rx="6.5" ry="5" transform="rotate(25 425.8 1642.3999999999999)" fill="#5f6f48"/>
<ellipse cx="470.8" cy="1641.8" rx="6.5" ry="5" transform="rotate(-25 470.8 1641.8)" fill="#5f6f48"/>
<ellipse cx="448.3" cy="1642.1" rx="22" ry="22.9" fill="#6f8057"/>
<circle cx="448.3" cy="1642.6" r="18" fill="#93a47a"/>
<circle cx="448.3" cy="1642.1" r="8.8" fill="#c5d1b0"/>
<ellipse cx="303.8" cy="1697.2" rx="6.5" ry="5" transform="rotate(25 303.8 1697.2)" fill="#5f6f48"/>
<ellipse cx="348.8" cy="1696.6000000000001" rx="6.5" ry="5" transform="rotate(-25 348.8 1696.6000000000001)" fill="#5f6f48"/>
<ellipse cx="326.3" cy="1696.9" rx="22" ry="22.9" fill="#6f8057"/>
<circle cx="326.3" cy="1697.4" r="18" fill="#93a47a"/>
<circle cx="326.3" cy="1696.9" r="8.8" fill="#c5d1b0"/>
<ellipse cx="303.8" cy="1751.6" rx="6.5" ry="5" transform="rotate(25 303.8 1751.6)" fill="#5f6f48"/>
<ellipse cx="348.8" cy="1751.0" rx="6.5" ry="5" transform="rotate(-25 348.8 1751.0)" fill="#5f6f48"/>
<ellipse cx="326.3" cy="1751.3" rx="22" ry="22.9" fill="#6f8057"/>
<circle cx="326.3" cy="1751.8" r="18" fill="#93a47a"/>
<circle cx="326.3" cy="1751.3" r="8.8" fill="#c5d1b0"/>
<rect x="361" y="1693.4" width="68" height="7" fill="#dfe4d4" stroke="#6f8057" stroke-width="2"/>
<circle cx="395" cy="1696.9" r="22.4" fill="url(#guiG)" stroke="#6f8057" stroke-width="3.3"/>
<rect x="431.5" y="1693.4" width="68" height="7" fill="#dfe4d4" stroke="#6f8057" stroke-width="2"/>
<circle cx="465.5" cy="1696.9" r="22.4" fill="url(#guiG)" stroke="#6f8057" stroke-width="3.3"/>
<rect x="501.79999999999995" y="1693.4" width="68" height="7" fill="#dfe4d4" stroke="#6f8057" stroke-width="2"/>
<circle cx="535.8" cy="1696.9" r="22.4" fill="url(#guiG)" stroke="#6f8057" stroke-width="3.3"/>
<rect x="361" y="1745.9" width="68" height="7" fill="#dfe4d4" stroke="#6f8057" stroke-width="2"/>
<circle cx="395" cy="1749.4" r="22.4" fill="url(#guiG)" stroke="#6f8057" stroke-width="3.3"/>
<rect x="431.5" y="1745.9" width="68" height="7" fill="#dfe4d4" stroke="#6f8057" stroke-width="2"/>
<circle cx="465.5" cy="1749.4" r="22.4" fill="url(#guiG)" stroke="#6f8057" stroke-width="3.3"/>
<rect x="501.79999999999995" y="1745.9" width="68" height="7" fill="#dfe4d4" stroke="#6f8057" stroke-width="2"/>
<circle cx="535.8" cy="1749.4" r="22.4" fill="url(#guiG)" stroke="#6f8057" stroke-width="3.3"/>
<rect x="572.7" y="1745.9" width="68" height="7" fill="#dfe4d4" stroke="#6f8057" stroke-width="2"/>
<circle cx="606.7" cy="1749.4" r="22.4" fill="url(#guiG)" stroke="#6f8057" stroke-width="3.3"/>
<rect x="643.8" y="1745.9" width="68" height="7" fill="#dfe4d4" stroke="#6f8057" stroke-width="2"/>
<circle cx="677.8" cy="1749.4" r="22.4" fill="url(#guiG)" stroke="#6f8057" stroke-width="3.3"/>
<rect x="714.4" y="1745.9" width="68" height="7" fill="#dfe4d4" stroke="#6f8057" stroke-width="2"/>
<circle cx="748.4" cy="1749.4" r="22.4" fill="url(#guiG)" stroke="#6f8057" stroke-width="3.3"/>
<rect x="686.2" y="1594.4" width="23" height="23" fill="#6f7f58"/>
<circle cx="697.7" cy="1605.9" r="13.8" fill="#93a47a"/>
<polygon points="697.7,1600.3 702.5,1608.7 692.9,1608.7" fill="#6f8057"/><polygon points="702.5,1603.1 697.7,1611.5 692.9,1603.1" fill="#6f8057"/>
<circle cx="697.7" cy="1605.9" r="1.6" fill="#93a47a"/>
<rect x="722.1" y="1594.4" width="23" height="23" fill="#6f7f58"/>
<circle cx="733.6" cy="1605.9" r="13.8" fill="#93a47a"/>
<polygon points="733.6,1600.3 738.4,1608.7 728.8,1608.7" fill="#6f8057"/><polygon points="738.4,1603.1 733.6,1611.5 728.8,1603.1" fill="#6f8057"/>
<circle cx="733.6" cy="1605.9" r="1.6" fill="#93a47a"/>
<rect x="758.4" y="1594.4" width="23" height="23" fill="#6f7f58"/>
<circle cx="769.9" cy="1605.9" r="13.8" fill="#93a47a"/>
<polygon points="769.9,1600.3 774.7,1608.7 765.1,1608.7" fill="#6f8057"/><polygon points="774.7,1603.1 769.9,1611.5 765.1,1603.1" fill="#6f8057"/>
<circle cx="769.9" cy="1605.9" r="1.6" fill="#93a47a"/>
<rect x="686.2" y="1639.1" width="23" height="23" fill="#6f7f58"/>
<circle cx="697.7" cy="1650.6" r="13.8" fill="#93a47a"/>
<polygon points="697.7,1645.0 702.5,1653.4 692.9,1653.4" fill="#6f8057"/><polygon points="702.5,1647.8 697.7,1656.2 692.9,1647.8" fill="#6f8057"/>
<circle cx="697.7" cy="1650.6" r="1.6" fill="#93a47a"/>
<rect x="722.1" y="1639.1" width="23" height="23" fill="#6f7f58"/>
<circle cx="733.6" cy="1650.6" r="13.8" fill="#93a47a"/>
<polygon points="733.6,1645.0 738.4,1653.4 728.8,1653.4" fill="#6f8057"/><polygon points="738.4,1647.8 733.6,1656.2 728.8,1647.8" fill="#6f8057"/>
<circle cx="733.6" cy="1650.6" r="1.6" fill="#93a47a"/>
<rect x="758.4" y="1639.1" width="23" height="23" fill="#6f7f58"/>
<circle cx="769.9" cy="1650.6" r="13.8" fill="#93a47a"/>
<polygon points="769.9,1645.0 774.7,1653.4 765.1,1653.4" fill="#6f8057"/><polygon points="774.7,1647.8 769.9,1656.2 765.1,1647.8" fill="#6f8057"/>
<circle cx="769.9" cy="1650.6" r="1.6" fill="#93a47a"/>
<rect x="582.3" y="1684.6" width="23" height="23" fill="#6f7f58"/>
<circle cx="593.8" cy="1696.1" r="13.8" fill="#93a47a"/>
<polygon points="593.8,1690.5 598.6,1698.9 589.0,1698.9" fill="#6f8057"/><polygon points="598.6,1693.3 593.8,1701.7 589.0,1693.3" fill="#6f8057"/>
<circle cx="593.8" cy="1696.1" r="1.6" fill="#93a47a"/>
<rect x="616.9" y="1684.6" width="23" height="23" fill="#6f7f58"/>
<circle cx="628.4" cy="1696.1" r="13.8" fill="#93a47a"/>
<polygon points="628.4,1690.5 633.2,1698.9 623.6,1698.9" fill="#6f8057"/><polygon points="633.2,1693.3 628.4,1701.7 623.6,1693.3" fill="#6f8057"/>
<circle cx="628.4" cy="1696.1" r="1.6" fill="#93a47a"/>
<rect x="651.8" y="1684.6" width="23" height="23" fill="#6f7f58"/>
<circle cx="663.3" cy="1696.1" r="13.8" fill="#93a47a"/>
<polygon points="663.3,1690.5 668.1,1698.9 658.5,1698.9" fill="#6f8057"/><polygon points="668.1,1693.3 663.3,1701.7 658.5,1693.3" fill="#6f8057"/>
<circle cx="663.3" cy="1696.1" r="1.6" fill="#93a47a"/>
<rect x="686.3" y="1684.6" width="23" height="23" fill="#6f7f58"/>
<circle cx="697.8" cy="1696.1" r="13.8" fill="#93a47a"/>
<polygon points="697.8,1690.5 702.6,1698.9 693.0,1698.9" fill="#6f8057"/><polygon points="702.6,1693.3 697.8,1701.7 693.0,1693.3" fill="#6f8057"/>
<circle cx="697.8" cy="1696.1" r="1.6" fill="#93a47a"/>
<rect x="721.8" y="1684.6" width="23" height="23" fill="#6f7f58"/>
<circle cx="733.3" cy="1696.1" r="13.8" fill="#93a47a"/>
<polygon points="733.3,1690.5 738.1,1698.9 728.5,1698.9" fill="#6f8057"/><polygon points="738.1,1693.3 733.3,1701.7 728.5,1693.3" fill="#6f8057"/>
<circle cx="733.3" cy="1696.1" r="1.6" fill="#93a47a"/>
<rect x="757.4" y="1684.6" width="23" height="23" fill="#6f7f58"/>
<circle cx="768.9" cy="1696.1" r="13.8" fill="#93a47a"/>
<polygon points="768.9,1690.5 773.7,1698.9 764.1,1698.9" fill="#6f8057"/><polygon points="773.7,1693.3 768.9,1701.7 764.1,1693.3" fill="#6f8057"/>
<circle cx="768.9" cy="1696.1" r="1.6" fill="#93a47a"/>
<path d="M519.4 1589.6 Q524.4 1579.6 530.4 1579.1 Q536.4 1579.6 541.4 1589.6 Z" fill="#86976a" stroke="#6f8057" stroke-width="0.8"/>
<path d="M500.4 1636.6 Q493.4 1646.6 496.4 1651.6 Q504.4 1653.6 516.4 1652.6 Z" fill="#86976a" stroke="#6f8057" stroke-width="0.8"/>
<path d="M560.4 1636.6 Q567.4 1646.6 564.4 1651.6 Q556.4 1653.6 544.4 1652.6 Z" fill="#86976a" stroke="#6f8057" stroke-width="0.8"/>
<rect x="490.2" y="1612.8" width="6" height="17.2" rx="2.5" fill="#8fa073"/>
<rect x="565.6" y="1612.8" width="6" height="17.2" rx="2.5" fill="#8fa073"/>
<circle cx="530.4" cy="1622.6" r="36" fill="#c9d4b4"/>
<circle cx="530.4" cy="1622.6" r="32" fill="#90a274"/>
<path d="M615 1589.6 Q620 1579.6 626 1579.1 Q632 1579.6 637 1589.6 Z" fill="#86976a" stroke="#6f8057" stroke-width="0.8"/>
<path d="M596 1636.6 Q589 1646.6 592 1651.6 Q600 1653.6 612 1652.6 Z" fill="#86976a" stroke="#6f8057" stroke-width="0.8"/>
<path d="M656 1636.6 Q663 1646.6 660 1651.6 Q652 1653.6 640 1652.6 Z" fill="#86976a" stroke="#6f8057" stroke-width="0.8"/>
<rect x="585.8" y="1612.8" width="6" height="17.2" rx="2.5" fill="#8fa073"/>
<rect x="661.2" y="1612.8" width="6" height="17.2" rx="2.5" fill="#8fa073"/>
<circle cx="626" cy="1622.6" r="36" fill="#c9d4b4"/>
<circle cx="626" cy="1622.6" r="32" fill="#90a274"/>
<line x1="110" y1="898.3" x2="392" y2="898.3" stroke="#8f8f8f" stroke-width="3.6" stroke-dasharray="13.3 7" stroke-dashoffset="0"/>
<circle cx="391.6" cy="898.3" r="6" fill="#8f8f8f"/>
<line x1="149" y1="1014.3" x2="612" y2="1014.3" stroke="#8f8f8f" stroke-width="3.6" stroke-dasharray="13.3 7" stroke-dashoffset="0"/>
<circle cx="612.2" cy="1014.3" r="6" fill="#8f8f8f"/>
<line x1="152" y1="1320" x2="319" y2="1320" stroke="#8f8f8f" stroke-width="3.6" stroke-dasharray="13.3 7" stroke-dashoffset="0"/>
<circle cx="318.7" cy="1320" r="6" fill="#8f8f8f"/>
<line x1="930" y1="735.1" x2="772" y2="735.1" stroke="#8f8f8f" stroke-width="3.6" stroke-dasharray="13.3 7" stroke-dashoffset="0"/>
<circle cx="771.7" cy="735" r="6" fill="#8f8f8f"/>
<line x1="966" y1="844.3" x2="790" y2="844.3" stroke="#8f8f8f" stroke-width="3.6" stroke-dasharray="13.3 7" stroke-dashoffset="0"/>
<circle cx="790" cy="844.1" r="6" fill="#8f8f8f"/>
<line x1="903.3" y1="904.5" x2="790" y2="904.5" stroke="#8f8f8f" stroke-width="3.6" stroke-dasharray="13.3 7" stroke-dashoffset="0"/>
<circle cx="790.1" cy="904.7" r="6" fill="#8f8f8f"/>
<line x1="793" y1="1044.3" x2="880" y2="1044.3" stroke="#8f8f8f" stroke-width="3.6" stroke-dasharray="13.3 7" stroke-dashoffset="0"/>
<circle cx="790" cy="1044.1" r="6" fill="#8f8f8f"/>
<line x1="785" y1="1235.3" x2="850" y2="1235.3" stroke="#8f8f8f" stroke-width="3.6" stroke-dasharray="13.3 7" stroke-dashoffset="0"/>
<circle cx="790.3" cy="1235.1" r="6" fill="#8f8f8f"/>
<line x1="922" y1="1365" x2="790" y2="1365" stroke="#8f8f8f" stroke-width="3.6" stroke-dasharray="13.3 7" stroke-dashoffset="0"/>
<circle cx="790" cy="1365.3" r="6" fill="#8f8f8f"/>
<path d="M950.6 890.7 L959 890.7 Q953.5 904.2 959 917.8 L950.6 917.8Z" fill="#7b8560"/>
<path d="M1013.3 890.7 L1004.9 890.7 Q1010.4 904.2 1004.9 917.8 L1013.3 917.8Z" fill="#7b8560"/>
<line x1="224.4" y1="1667.3" x2="259" y2="1667.3" stroke="#8f8f8f" stroke-width="3.6" stroke-dasharray="13.3 7" stroke-dashoffset="0"/>
<path d="M261.5 1562.2 Q258.9 1568 258.9 1580 L258.9 1758 Q258.9 1770 261.5 1775.6" fill="none" stroke="#8f8f8f" stroke-width="2.6"/>
<circle cx="258.9" cy="1667.3" r="6" fill="#8f8f8f"/>
</svg>

<div class="t" style="left:59px;top:81px;font-size:66px;font-weight:900;color:#7c8a5e;-webkit-text-stroke:1.2px #7c8a5e;">曾侯乙墓</div>
<div class="t" style="left:327px;top:62px;font-size:86px;font-weight:900;color:#7c8a5e;-webkit-text-stroke:1.5px #7c8a5e;">格局</div>
<div class="t" style="left:505px;top:84px;font-size:61px;font-weight:900;color:#7c8a5e;letter-spacing:7px;-webkit-text-stroke:1.1px #7c8a5e;">示意</div>
<div class="t" style="left:64px;top:167px;font-size:22px;color:#9a9a9a;">参考资料：湖北省博物馆<span style="margin-right:5.5px">.</span> 曾侯乙墓[M]<span style="margin-right:3.5px">.</span> 北京：文物出版社<span style="margin-right:3px">.</span> 1989</div>

<div class="lab" style="left:63px;top:649px;">编磬</div>
<div class="lab" style="left:64px;top:881px;">瑟</div>
<div class="lab" style="left:64px;top:996px;">尊盘</div>
<div class="lab" style="left:64px;top:1300px;">编钟</div>
<div class="lab" style="left:64px;top:1651px;">九鼎八簋</div>
<div class="lab" style="right:62px;top:719px;">排箫</div>
<div class="lab" style="right:62px;top:823px;">笙</div>
<div class="lab" style="left:909px;top:884px;">篪</div>
<div class="t" style="left:961px;top:887px;font-size:30px;color:#7b8560;-webkit-text-stroke:0.5px #7b8560;">chí</div>
<div class="lab" style="right:62px;top:1027px;">铜鉴缶</div>
<div class="lab" style="right:62px;top:1219px;">联禁大壶</div>
<div class="lab" style="right:62px;top:1349px;">建鼓</div>

<div class="t" style="left:182px;top:289px;font-size:33px;font-weight:bold;color:#fff;letter-spacing:0px;-webkit-text-stroke:0.6px #fff;">兵器</div>
<div class="t tv" style="left:100px;top:421px;line-height:35px;font-size:31px;font-weight:bold;color:#fff;-webkit-text-stroke:0.6px #fff;">陪<br>葬<br>棺</div>
<div class="t tv" style="left:203px;top:400px;line-height:35.5px;font-size:31px;font-weight:bold;color:#fff;-webkit-text-stroke:0.6px #fff;">礼<br>乐<br>之<br>器</div>
<div class="t" style="left:315px;top:391px;font-size:32px;font-weight:bold;color:#fff;-webkit-text-stroke:0.6px #fff;">曾侯乙棺</div>
<div class="t" style="left:303px;top:428px;font-size:23px;color:#fff;">（个人用器）</div>
<div class="t" style="left:101.5px;top:271px;font-family:'Liberation Serif',serif;font-size:24px;color:#7f8a72;">N</div>
<div class="t tv" style="left:1013px;top:1723px;font-size:28px;color:#7a7a7a;line-height:29.5px;">星<br>球<br>研<br>究<br>所</div>
<div id="ifp" class="t" style="left:1062px;top:1699.4px;transform-origin:0 0;transform:rotate(90deg) scaleX(0.892);font-size:14.2px;color:#ababab;letter-spacing:0.9px;line-height:14px;">INSTITUTE FOR PLANETS</div>
</body></html>
